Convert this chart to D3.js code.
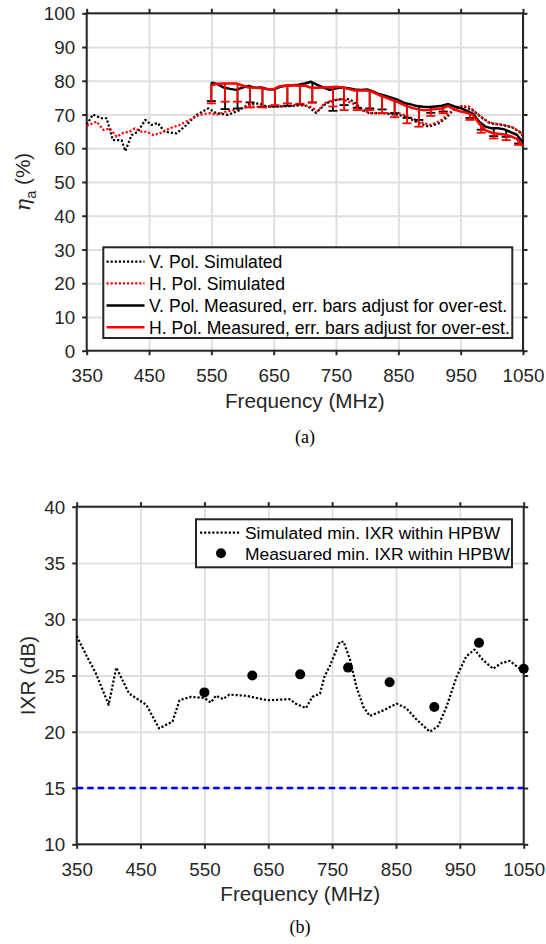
<!DOCTYPE html>
<html>
<head>
<meta charset="utf-8">
<script src="https://cdn.jsdelivr.net/npm/d3@7"></script>
<style>
  html, body { margin: 0; padding: 0; background: #fff; }
  svg { display: block; }
  text { font-family: "Liberation Sans", Arial, Helvetica, sans-serif; }
</style>
</head>
<body>
<svg id="fig" width="546" height="944"></svg>
<script>
// ---------- (a) aperture efficiency ----------
const etaTicksX = [350, 450, 550, 650, 750, 850, 950, 1050];
const etaTicksY = [0, 10, 20, 30, 40, 50, 60, 70, 80, 90, 100];

const simVFreq = [350, 360, 366, 374, 382, 392, 406, 412, 422, 432, 444, 454, 464, 475, 494, 510, 526, 545, 558, 577, 595, 611, 627, 638, 659, 681, 697, 705, 718, 734, 750, 766, 777, 790, 803, 825, 846, 862, 878, 899, 915, 926, 939, 953, 969, 985, 998, 1017, 1033, 1046, 1050];
const simV     = [67.0, 70.0, 69.5, 68.9, 68.9, 62.4, 62.4, 59.2, 63.9, 64.9, 68.4, 66.9, 67.5, 64.9, 64.4, 66.9, 69.9, 71.8, 70.4, 69.9, 71.3, 73.1, 73.3, 72.4, 72.4, 72.5, 72.8, 72.4, 70.5, 73.3, 74.3, 74.8, 74.0, 71.8, 70.4, 70.4, 70.0, 69.4, 67.9, 66.4, 67.4, 68.9, 71.5, 72.5, 71.3, 68.9, 67.4, 66.9, 66.2, 64.6, 63.6];

const simHFreq = [350, 366, 377, 387, 398, 409, 419, 427, 438, 446, 457, 467, 483, 499, 515, 531, 547, 558, 574, 590, 611, 638, 665, 691, 707, 721, 731, 745, 761, 777, 790, 806, 830, 851, 867, 883, 902, 918, 931, 947, 963, 979, 995, 1017, 1033, 1046, 1050];
const simH     = [66.6, 67.9, 65.4, 65.9, 63.4, 64.6, 64.9, 65.9, 64.9, 64.9, 63.9, 64.4, 65.9, 66.9, 68.4, 69.9, 70.4, 69.9, 70.9, 71.5, 72.4, 72.2, 72.4, 72.9, 72.5, 71.0, 73.3, 74.3, 74.5, 73.3, 71.3, 70.4, 70.4, 70.4, 69.4, 67.9, 66.9, 68.2, 70.4, 72.5, 72.4, 69.9, 67.6, 67.0, 66.2, 64.8, 63.5];

const measFreq = [550, 560, 570, 580, 590, 600, 610, 620, 630, 640, 650, 660, 670, 680, 690, 700, 710, 720, 730, 740, 750, 760, 770, 780, 790, 800, 810, 820, 830, 840, 850, 860, 870, 880, 890, 900, 910, 920, 930, 940, 950, 960, 970, 980, 990, 1000, 1010, 1020, 1030, 1040, 1050];
const measV    = [79.5, 79.0, 78.0, 77.6, 77.3, 78.0, 78.5, 77.9, 78.0, 77.5, 77.4, 78.2, 78.5, 78.7, 78.8, 79.2, 79.7, 78.8, 78.0, 77.3, 77.8, 78.0, 77.8, 77.4, 77.3, 77.4, 76.8, 76.0, 75.5, 74.9, 74.3, 73.4, 73.0, 72.5, 72.3, 72.2, 72.4, 72.6, 73.1, 72.4, 71.9, 71.1, 70.2, 67.8, 66.4, 65.9, 65.9, 65.6, 64.8, 64.0, 61.8];
const measH    = [78.7, 79.1, 79.2, 79.2, 79.2, 78.6, 78.0, 77.9, 77.8, 77.6, 77.5, 78.4, 78.6, 78.7, 78.5, 78.6, 77.9, 77.9, 78.0, 78.1, 78.2, 78.0, 77.6, 77.1, 77.1, 77.1, 76.6, 75.7, 75.0, 74.3, 73.6, 72.7, 72.1, 71.6, 71.3, 71.4, 71.6, 71.8, 72.5, 71.5, 70.9, 70.5, 69.8, 67.2, 65.3, 64.6, 64.3, 64.1, 63.6, 62.8, 60.6];

// lower ends of the over-estimation error bars
const errFreq = [550, 572, 592, 612, 632, 652, 672, 692, 712, 745, 763, 784, 804, 824, 844, 864, 883, 902, 922, 965, 983, 1003, 1023, 1043];
const errLowV = [74.0, 71.6, 71.8, 73.6, 72.3, 72.4, 72.6, 73.0, 73.6, 71.1, 72.8, 72.0, 71.8, 71.5, 70.4, 69.0, 68.4, 70.5, 70.9, 69.0, 65.5, 63.6, 63.4, 61.4];
const errLowH = [73.3, 73.8, 73.8, 72.1, 72.1, 72.8, 73.3, 73.2, 73.5, 72.4, 71.3, 71.3, 71.3, 70.4, 69.2, 67.4, 66.4, 69.6, 70.4, 68.4, 64.6, 62.9, 62.4, 61.0];

const etaLegend = ["V. Pol. Simulated", "H. Pol. Simulated",
                   "V. Pol. Measured, err. bars adjust for over-est.",
                   "H. Pol. Measured, err. bars adjust for over-est."];

// ---------- (b) cross-polar intrinsic ratio ----------
const ixrTicksX = [350, 450, 550, 650, 750, 850, 950, 1050];
const ixrTicksY = [10, 15, 20, 25, 30, 35, 40];

const ixrSimFreq = [350, 365, 380, 400, 412, 432, 448, 459, 479, 500, 511, 529, 550, 560, 568, 579, 589, 615, 649, 683, 693, 709, 719, 731, 738, 746, 762, 768, 778, 788, 799, 809, 830, 851, 866, 882, 903, 916, 929, 945, 960, 973, 986, 1002, 1015, 1028, 1044, 1050];
const ixrSim     = [28.5, 26.8, 25.2, 22.4, 25.7, 23.4, 22.8, 22.4, 20.3, 20.9, 22.8, 23.1, 23.0, 22.6, 23.2, 22.9, 23.3, 23.2, 22.8, 22.9, 22.5, 22.1, 23.1, 23.4, 24.9, 25.8, 28.0, 28.0, 26.4, 24.0, 22.2, 21.4, 21.9, 22.5, 22.1, 21.1, 20.0, 20.5, 22.2, 24.9, 26.7, 27.3, 26.4, 25.6, 26.1, 26.3, 25.6, 25.5];

const ixrMeasFreq = [550, 625, 700, 775, 840, 910, 980, 1050];
const ixrMeas     = [23.5, 25.0, 25.1, 25.7, 24.4, 22.2, 27.9, 25.6];

const ixrThreshold = 15;

const ixrLegend = ["Simulated min. IXR within HPBW", "Measuared min. IXR within HPBW"];

// ---------- drawing ----------
const svg = d3.select("#fig");
const INK = "#262626";
const GRID = "#dfdfdf";
const TICK_FS = 18.8, LABEL_FS = 20.7, LEG_FS = 17.4;
const DOT = "2.2 1.9";

function panel(box, xDom, yDom, xTicks, yTicks) {
  const x = d3.scaleLinear().domain(xDom).range([box.l, box.r]);
  const y = d3.scaleLinear().domain(yDom).range([box.b, box.t]);
  const g = svg.append("g");
  const w = box.r - box.l, h = box.b - box.t;

  // grid
  g.append("g").attr("transform", `translate(0,${box.b})`)
    .call(d3.axisBottom(x).tickValues(xTicks).tickSize(-h).tickFormat(""))
    .call(a => a.select(".domain").remove())
    .call(a => a.selectAll("line").attr("stroke", GRID).attr("stroke-width", 2));
  g.append("g").attr("transform", `translate(${box.l},0)`)
    .call(d3.axisLeft(y).tickValues(yTicks).tickSize(-w).tickFormat(""))
    .call(a => a.select(".domain").remove())
    .call(a => a.selectAll("line").attr("stroke", GRID).attr("stroke-width", 2));

  // outward ticks on all four sides
  const tk = 4.5;
  const styleTicks = a => {
    a.select(".domain").remove();
    a.selectAll("line").attr("stroke", INK).attr("stroke-width", 2);
    a.selectAll("text").attr("fill", INK).style("font-size", TICK_FS + "px")
      .style("font-family", '"Liberation Sans", Arial, sans-serif');
  };
  g.append("g").attr("transform", `translate(0,${box.b})`)
    .call(d3.axisBottom(x).tickValues(xTicks).tickSize(tk).tickFormat(d3.format("d")))
    .call(styleTicks)
    .call(a => a.selectAll("text").attr("y", 31.5).attr("dy", null));
  g.append("g").attr("transform", `translate(0,${box.t})`)
    .call(d3.axisTop(x).tickValues(xTicks).tickSize(tk).tickFormat(""))
    .call(styleTicks);
  g.append("g").attr("transform", `translate(${box.l},0)`)
    .call(d3.axisLeft(y).tickValues(yTicks).tickSize(tk).tickFormat(d3.format("d")))
    .call(styleTicks)
    .call(a => a.selectAll("text").attr("x", -11.5).attr("dy", "0.35em"));
  g.append("g").attr("transform", `translate(${box.r},0)`)
    .call(d3.axisRight(y).tickValues(yTicks).tickSize(tk).tickFormat(""))
    .call(styleTicks);

  // box
  g.append("rect").attr("x", box.l).attr("y", box.t).attr("width", w).attr("height", h)
    .attr("fill", "none").attr("stroke", INK).attr("stroke-width", 2);

  return { x, y, g };
}

function line(g, x, y, xs, ys, color, width, dash) {
  const gen = d3.line().x(d => x(d[0])).y(d => y(d[1]));
  g.append("path").datum(d3.zip(xs, ys)).attr("d", gen)
    .attr("fill", "none").attr("stroke", color).attr("stroke-width", width)
    .attr("stroke-linejoin", "round")
    .attr("stroke-dasharray", dash || null);
}

function errorBars(g, x, y, fs, lows, topScale, color) {
  const cap = 4.5;
  const bars = g.append("g").attr("stroke", color).attr("stroke-width", 1.8).attr("fill", "none");
  fs.forEach((f, i) => {
    const xt = x(f), yTop = y(topScale(f)), yLow = y(lows[i]);
    bars.append("line").attr("x1", xt).attr("x2", xt).attr("y1", yTop).attr("y2", yLow);
    bars.append("line").attr("x1", xt - cap).attr("x2", xt + cap).attr("y1", yLow).attr("y2", yLow);
  });
}

// ---- panel (a) ----
const boxA = { l: 86.7, r: 523, t: 13.3, b: 350.7 };
const A = panel(boxA, [350, 1050], [0, 100], etaTicksX, etaTicksY);

line(A.g, A.x, A.y, simVFreq, simV, "#000", 2.2, DOT);
line(A.g, A.x, A.y, simHFreq, simH, "#ff0000", 2.2, DOT);

const vAt = d3.scaleLinear().domain(measFreq).range(measV);
const hAt = d3.scaleLinear().domain(measFreq).range(measH);
errorBars(A.g, A.x, A.y, errFreq, errLowV, vAt, "#000");
line(A.g, A.x, A.y, measFreq, measV, "#000", 2.5);
errorBars(A.g, A.x, A.y, errFreq, errLowH, hAt, "#ff0000");
line(A.g, A.x, A.y, measFreq, measH, "#ff0000", 2.5);

// legend (a)
{
  const lg = svg.append("g");
  lg.append("rect").attr("x", 103.3).attr("y", 247.3).attr("width", 409).attr("height", 90.7)
    .attr("fill", "#fff").attr("stroke", INK).attr("stroke-width", 2);
  const rows = [261.7, 283.3, 305.5, 327.2];
  const styles = [["#000", DOT], ["#ff0000", DOT], ["#000", null], ["#ff0000", null]];
  etaLegend.forEach((t, i) => {
    lg.append("line").attr("x1", 106.5).attr("x2", 144.5).attr("y1", rows[i]).attr("y2", rows[i])
      .attr("stroke", styles[i][0]).attr("stroke-width", styles[i][1] ? 2.2 : 2.5)
      .attr("stroke-dasharray", styles[i][1]);
    lg.append("text").attr("x", 149).attr("y", rows[i]).attr("dy", "0.36em")
      .style("font-size", (LEG_FS + 0.2) + "px").attr("fill", "#000").text(t);
  });
}

// axis titles (a)
svg.append("text").attr("x", (boxA.l + boxA.r) / 2).attr("y", 407.5).attr("text-anchor", "middle")
  .style("font-size", LABEL_FS + "px").attr("fill", INK).text("Frequency (MHz)");
{
  const t = svg.append("text").attr("transform", `translate(30,${(boxA.t + boxA.b) / 2}) rotate(-90)`)
    .attr("text-anchor", "middle").style("font-size", LABEL_FS + "px").attr("fill", INK);
  t.append("tspan").style("font-family", '"DejaVu Serif", "Liberation Serif", serif')
    .style("font-style", "italic").text("\u03B7");
  t.append("tspan").attr("dy", 6).style("font-size", (LABEL_FS * 0.7) + "px").text("a");
  t.append("tspan").attr("dy", -6).text(" (%)");
}
svg.append("text").attr("x", 305).attr("y", 443).attr("text-anchor", "middle")
  .style("font-family", '"Liberation Serif", "Times New Roman", serif').style("font-size", "18px")
  .attr("fill", "#000").text("(a)");

// ---- panel (b) ----
const boxB = { l: 76.7, r: 523.7, t: 506.7, b: 844.3 };
const B = panel(boxB, [350, 1050], [10, 40], ixrTicksX, ixrTicksY);

line(B.g, B.x, B.y, ixrSimFreq, ixrSim, "#000", 2.2, DOT);
B.g.append("g").selectAll("circle").data(d3.zip(ixrMeasFreq, ixrMeas)).join("circle")
  .attr("cx", d => B.x(d[0])).attr("cy", d => B.y(d[1])).attr("r", 5).attr("fill", "#000");
B.g.append("line").attr("x1", B.x(350)).attr("x2", B.x(1050))
  .attr("y1", B.y(ixrThreshold)).attr("y2", B.y(ixrThreshold))
  .attr("stroke", "#0000ff").attr("stroke-width", 2.5).attr("stroke-dasharray", "6.5 4");

// legend (b)
{
  const lg = svg.append("g");
  lg.append("rect").attr("x", 196).attr("y", 519.3).attr("width", 316).attr("height", 48)
    .attr("fill", "#fff").attr("stroke", INK).attr("stroke-width", 2);
  const rows = [532.7, 553.3];
  lg.append("line").attr("x1", 200).attr("x2", 240).attr("y1", rows[0]).attr("y2", rows[0])
    .attr("stroke", "#000").attr("stroke-width", 2.2).attr("stroke-dasharray", DOT);
  lg.append("circle").attr("cx", 221).attr("cy", rows[1]).attr("r", 5).attr("fill", "#000");
  ixrLegend.forEach((t, i) => {
    lg.append("text").attr("x", 245).attr("y", rows[i]).attr("dy", "0.36em")
      .style("font-size", LEG_FS + "px").attr("fill", "#000").text(t);
  });
}

// axis titles (b)
svg.append("text").attr("x", (boxB.l + boxB.r) / 2).attr("y", 901).attr("text-anchor", "middle")
  .style("font-size", LABEL_FS + "px").attr("fill", INK).text("Frequency (MHz)");
svg.append("text").attr("transform", `translate(35,${(boxB.t + boxB.b) / 2}) rotate(-90)`)
  .attr("text-anchor", "middle").style("font-size", LABEL_FS + "px").attr("fill", INK).text("IXR (dB)");
svg.append("text").attr("x", 300).attr("y", 933).attr("text-anchor", "middle")
  .style("font-family", '"Liberation Serif", "Times New Roman", serif').style("font-size", "18px")
  .attr("fill", "#000").text("(b)");
</script>
</body>
</html>
